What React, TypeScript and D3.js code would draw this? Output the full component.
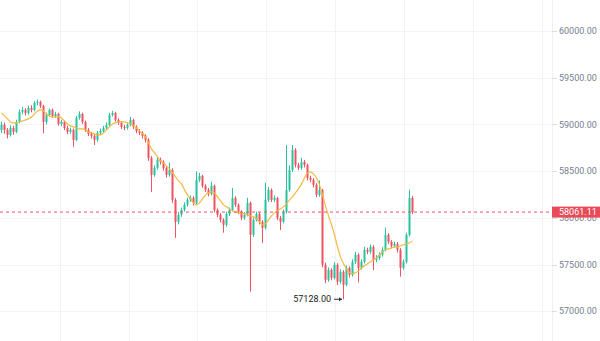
import React from "react";
import * as d3 from "d3";

// ---- data ----
const closes = [
  58995, 58941, 58887, 58962, 58920, 59027, 59134, 59155, 59123, 59176,
  59155, 59230, 59241, 59198, 59027, 59102, 59155, 59091, 59112, 59005,
  59027, 58962, 58920, 58941, 58834, 59069, 59112, 59027, 58941, 58898,
  58877, 58834, 58909, 58930, 58962, 58995, 59102, 59123, 59048, 59016,
  58973, 58962, 58995, 59048, 58973, 58930, 58909, 58877, 58834, 58641,
  58460, 58534, 58620, 58599, 58534, 58460, 58513, 58192, 57957, 58032,
  58085, 58139, 58192, 58213, 58160, 58406, 58449, 58342, 58299, 58256,
  58342, 58085, 58032, 57978, 57925, 58042, 58085, 58213, 58139, 58064,
  58000, 58032, 58160, 57818, 57978, 58042, 57957, 57892, 58192, 58299,
  58192, 58213, 58000, 57957, 58064, 58299, 58513, 58727, 58566, 58534,
  58599, 58566, 58427, 58406, 58353, 58246, 58299, 57497, 57336, 57443,
  57357, 57497, 57315, 57422, 57282, 57464, 57390, 57529, 57604, 57464,
  57529, 57657, 57636, 57689, 57550, 57571, 57604, 57657, 57818, 57743,
  57700, 57721, 57657, 57464, 57529, 57818, 58213, 58061.11,
];
const firstOpen = 58940;
const highs = [
  59030, 59020, 58960, 58990, 58985, 59050, 59160, 59185, 59175, 59200,
  59205, 59250, 59265, 59255, 59210, 59125, 59170, 59170, 59135, 59125,
  59050, 59045, 58985, 58965, 58955, 59090, 59140, 59125, 59040, 58960,
  58920, 58895, 58930, 58955, 58985, 59020, 59125, 59145, 59135, 59065,
  59035, 58995, 59015, 59080, 59060, 58990, 58950, 58925, 58895, 58850,
  58660, 58560, 58650, 58645, 58615, 58550, 58590, 58530, 58210, 58060,
  58110, 58165, 58215, 58240, 58230, 58495, 58480, 58460, 58360, 58320,
  58385, 58355, 58100, 58050, 57995, 58065, 58110, 58320, 58230, 58155,
  58080, 58060, 58215, 58175, 58000, 58065, 58060, 57975, 58375, 58330,
  58315, 58240, 58225, 58020, 58090, 58780, 58560, 58780, 58745, 58590,
  58640, 58620, 58580, 58450, 58425, 58370, 58400, 58310, 57520, 57470,
  57460, 57525, 57515, 57450, 57440, 57490, 57480, 57555, 57635, 57620,
  57555, 57690, 57680, 57715, 57705, 57600, 57630, 57685, 57895, 57835,
  57760, 57745, 57740, 57675, 57555, 57840, 58300, 58235,
];
const lows = [
  58910, 58900, 58850, 58870, 58890, 58905, 59010, 59110, 59095, 59105,
  59130, 59140, 59205, 59175, 58905, 59000, 59085, 59070, 59070, 58985,
  58980, 58940, 58895, 58900, 58760, 58820, 59050, 59005, 58920, 58875,
  58850, 58780, 58815, 58890, 58915, 58945, 58980, 59085, 59030, 58995,
  58950, 58940, 58945, 58980, 58950, 58905, 58885, 58850, 58805, 58610,
  58275, 58440, 58515, 58570, 58505, 58430, 58440, 58160, 57785, 57930,
  58010, 58065, 58120, 58170, 58130, 58145, 58385, 58320, 58275, 58230,
  58240, 58060, 58005, 57950, 57840, 57905, 58020, 58070, 58115, 58040,
  57975, 57980, 58015, 57210, 57795, 57960, 57930, 57730, 57875, 58170,
  58170, 58170, 57975, 57870, 57940, 58045, 58280, 58490, 58540, 58510,
  58515, 58540, 58400, 58380, 58325, 58220, 58225, 57470, 57300, 57315,
  57330, 57340, 57280, 57295, 57128, 57265, 57360, 57370, 57505, 57310,
  57445, 57510, 57610, 57615, 57440, 57525, 57550, 57585, 57640, 57720,
  57675, 57680, 57630, 57370, 57445, 57510, 57800, 58040,
];
const maValues = [
  59123, 59091, 59059, 59027, 59016, 59016, 59027, 59037, 59048, 59059,
  59080, 59112, 59144, 59155, 59144, 59112, 59091, 59080, 59080, 59080,
  59069, 59037, 59005, 58984, 58973, 58962, 58952, 58952, 58941, 58920,
  58909, 58898, 58887, 58887, 58909, 58941, 58973, 59005, 59016, 59027,
  59027, 59027, 59016, 59005, 58984, 58962, 58930, 58898, 58866, 58802,
  58738, 58695, 58652, 58609, 58588, 58556, 58524, 58481, 58438, 58395,
  58363, 58299, 58246, 58203, 58160, 58139, 58160, 58203, 58246, 58267,
  58278, 58267, 58224, 58181, 58139, 58117, 58096, 58074, 58064, 58053,
  58053, 58042, 58032, 58021, 58010, 57989, 57957, 57925, 57935, 57978,
  58021, 58053, 58074, 58096, 58117, 58149, 58192, 58224, 58267, 58309,
  58363, 58427, 58481, 58492, 58470, 58427, 58353, 58246, 58128, 58021,
  57925, 57818, 57689, 57582, 57507, 57454, 57411, 57400, 57411, 57432,
  57464, 57486, 57507, 57529, 57550, 57571, 57604, 57636, 57657, 57668,
  57678, 57689, 57689, 57700, 57711, 57721, 57732, 57753,
];
const priceTicks = [57000, 57500, 58000, 58500, 59000, 59500, 60000];
const timeGridIdx = [19.67, 42.5, 65.33, 88.33, 111.33, 134.33, 157.33, 180.33];
const lastPrice = 58061.11;

// ---- layout ----
const W = 600;
const H = 341;
const plotRight = 552;
const upColor = "#26C4A0";
const downColor = "#EF5361";
const font = "Roboto, 'Helvetica Neue', Arial, sans-serif";

export default function App() {
  const y = d3.scaleLinear().domain([57000, 60000]).range([311.2, 31]);
  const x = d3.scaleLinear().domain([0, 184]).range([1, 553]);

  const candles = closes.map((c, i) => {
    const o = i === 0 ? firstOpen : closes[i - 1];
    return { i, o, c, h: highs[i], l: lows[i] };
  });

  const maLine = d3
    .line<number>()
    .x((_, i) => x(i) + 0.5)
    .y((v) => y(v))
    .curve(d3.curveMonotoneX)(maValues) as string;

  const minIdx = d3.minIndex(lows);
  const minLow = lows[minIdx];
  const arrowTip = x(minIdx) - 1;
  const arrowStart = arrowTip - 8;
  const my = y(minLow);

  return (
    <svg
      width={W}
      height={H}
      style={{ position: "fixed", left: 0, top: 0, background: "#fff" }}
      fontFamily={font}
    >
      <rect x={0} y={0} width={W} height={H} fill="#fff" />
      {/* grid */}
      {priceTicks.map((t) => (
        <line
          key={"h" + t}
          x1={0}
          x2={plotRight}
          y1={Math.round(y(t)) + 0.5}
          y2={Math.round(y(t)) + 0.5}
          stroke="#F2F3F5"
          strokeWidth={1}
        />
      ))}
      {timeGridIdx.map((g) => (
        <line
          key={"v" + g}
          x1={Math.round(x(g)) + 0.5}
          x2={Math.round(x(g)) + 0.5}
          y1={0}
          y2={H}
          stroke="#F2F3F5"
          strokeWidth={1}
        />
      ))}
      <line x1={plotRight + 0.5} x2={plotRight + 0.5} y1={0} y2={H} stroke="#EEF0F2" />

      {/* candles */}
      {candles.map((d) => {
        const up = d.c >= d.o;
        const col = up ? upColor : downColor;
        const cx = x(d.i);
        const top = y(Math.max(d.o, d.c));
        const bot = y(Math.min(d.o, d.c));
        return (
          <g key={d.i}>
            <line
              x1={cx + 0.5}
              x2={cx + 0.5}
              y1={y(d.h)}
              y2={y(d.l)}
              stroke={col}
              strokeWidth={1}
            />
            <rect
              x={cx - 0.5}
              y={top}
              width={2}
              height={Math.max(1, bot - top)}
              fill={col}
            />
          </g>
        );
      })}

      {/* moving average */}
      <path d={maLine} fill="none" stroke="#F5B940" strokeWidth={1.2} />

      {/* last price line */}
      <line
        x1={0}
        x2={plotRight}
        y1={y(lastPrice)}
        y2={y(lastPrice)}
        stroke={downColor}
        strokeWidth={1}
        strokeDasharray="3,3"
      />

      {/* min marker */}
      <line x1={arrowStart} x2={arrowTip} y1={my} y2={my} stroke="#333" strokeWidth={1} />
      <path
        d={`M${arrowTip},${my} L${arrowTip - 3},${my - 2} L${arrowTip - 3},${my + 2} Z`}
        fill="#333"
      />
      <text
        x={arrowStart - 3}
        y={my}
        dy="0.35em"
        textAnchor="end"
        fontSize={9}
        fill="#222"
      >
        {minLow.toFixed(2)}
      </text>

      {/* price axis */}
      {priceTicks.map((t) => (
        <g key={"t" + t}>
          <line
            x1={plotRight}
            x2={plotRight + 5}
            y1={Math.round(y(t)) + 0.5}
            y2={Math.round(y(t)) + 0.5}
            stroke="#D9DCE0"
          />
          <text x={559} y={y(t)} dy="0.35em" fontSize={9} fill="#76808F">
            {t.toFixed(2)}
          </text>
        </g>
      ))}
      <rect
        x={plotRight}
        y={y(lastPrice) - 5.5}
        width={W - plotRight}
        height={11}
        fill="#EA4A57"
      />
      <text x={559} y={y(lastPrice)} dy="0.35em" fontSize={9} fill="#fff">
        {lastPrice.toFixed(2)}
      </text>
    </svg>
  );
}
